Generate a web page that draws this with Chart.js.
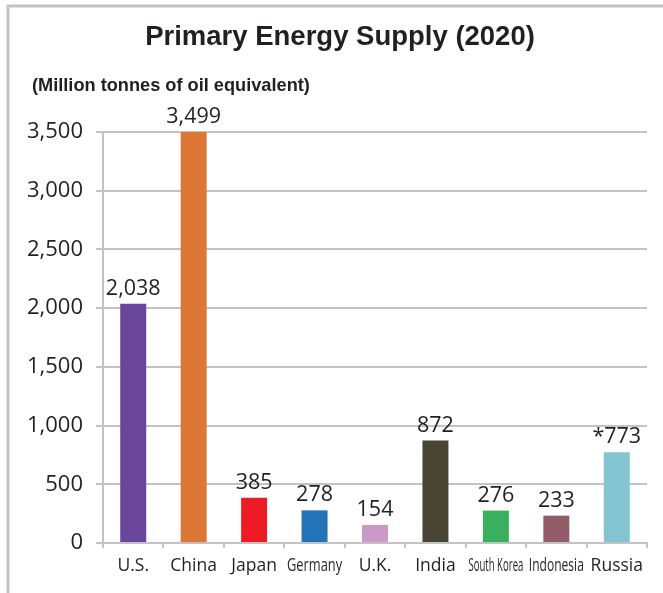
<!DOCTYPE html>
<html>
<head>
<meta charset="utf-8">
<script src="https://cdn.jsdelivr.net/npm/chart.js@4"></script>
<style>
  html, body { margin: 0; padding: 0; background: #fff; }
  #wrap { width: 663px; height: 593px; position: relative; }
</style>
</head>
<body>
<div id="wrap"><canvas id="energyChart" width="663" height="593"></canvas></div>
<script>
// data
const countries = ["U.S.", "China", "Japan", "Germany", "U.K.", "India", "South Korea", "Indonesia", "Russia"];
const supply = [2038, 3499, 385, 278, 154, 872, 276, 233, 773];
const valueLabels = ["2,038", "3,499", "385", "278", "154", "872", "276", "233", "*773"];
const barColors = ["#6a469b", "#dc7735", "#ed1c24", "#2373b9", "#cc98c8", "#484535", "#3aaf5e", "#925d69", "#83c3d2"];

const titleText = "Primary Energy Supply (2020)";
const unitText = "(Million tonnes of oil equivalent)";

const gridGray = "#c3c3c7";
const textDark = "#231f20";
const numFont = "'Open Sans', 'DejaVu Sans', sans-serif";

// frame, title and unit line
const decorPlugin = {
    id: "decor",
    beforeDraw(chart) {
        const c = chart.ctx;
        c.save();
        c.fillStyle = "#fff";
        c.fillRect(0, 0, chart.width, chart.height);
        c.strokeStyle = gridGray;
        c.lineWidth = 3;
        c.beginPath();
        c.moveTo(8, chart.height);
        c.lineTo(8, 6);
        c.lineTo(chart.width, 6);
        c.stroke();

        c.fillStyle = textDark;
        c.textAlign = "center";
        c.textBaseline = "alphabetic";
        c.font = "bold 27.5px 'Liberation Sans', Arial, sans-serif";
        c.fillText(titleText, 340, 45);

        c.textAlign = "left";
        c.font = "bold 18.2px 'Liberation Sans', Arial, sans-serif";
        c.fillText(unitText, 32, 91);
        c.restore();
    }
};

// numbers above bars + category names (long names squeezed like the original)
const valuePlugin = {
    id: "values",
    afterDatasetsDraw(chart) {
        const c = chart.ctx;
        const meta = chart.getDatasetMeta(0);
        c.save();
        c.fillStyle = textDark;
        c.textAlign = "center";
        c.textBaseline = "alphabetic";
        c.font = "21.5px " + numFont;
        meta.data.forEach((bar, i) => {
            c.fillText(valueLabels[i], bar.x, bar.y - 9);
        });

        const xs = chart.scales.x;
        c.font = "17.5px " + numFont;
        countries.forEach((name, i) => {
            const px = xs.getPixelForValue(i);
            const w = c.measureText(name).width;
            const k = w > 56 ? 55 / w : 1;
            c.save();
            c.translate(px, 571);
            c.scale(k, 1);
            c.fillText(name, 0, 0);
            c.restore();
        });
        c.restore();
    }
};

const ctx = document.getElementById("energyChart").getContext("2d");

new Chart(ctx, {
    type: "bar",
    data: {
        labels: countries,
        datasets: [{
            data: supply,
            backgroundColor: barColors,
            borderWidth: 0,
            categoryPercentage: 1,
            barPercentage: 0.43
        }]
    },
    options: {
        responsive: false,
        animation: false,
        layout: { padding: { left: 0, top: 132, right: 16, bottom: 0 } },
        plugins: {
            legend: { display: false },
            tooltip: { enabled: false }
        },
        scales: {
            x: {
                afterFit: s => { s.height = 50; },
                grid: {
                    display: true,
                    drawOnChartArea: false,
                    color: gridGray,
                    lineWidth: 2,
                    tickLength: 5,
                    offset: true
                },
                border: { display: true, color: gridGray, width: 2 },
                ticks: { display: false }
            },
            y: {
                min: 0,
                max: 3500,
                afterFit: s => { s.width = 103; },
                grid: {
                    color: gridGray,
                    lineWidth: 2,
                    tickLength: 7
                },
                border: { display: true, color: gridGray, width: 2 },
                ticks: {
                    stepSize: 500,
                    color: textDark,
                    padding: 13,
                    font: { family: numFont, size: 22 },
                    callback: v => v.toLocaleString("en-US")
                }
            }
        }
    },
    plugins: [decorPlugin, valuePlugin]
});
</script>
</body>
</html>
